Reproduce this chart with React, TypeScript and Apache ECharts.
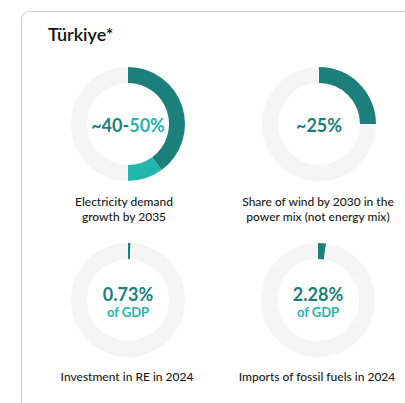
import React, { useEffect, useRef } from "react";
import * as echarts from "echarts";

const title = "Türkiye*";
const captions = [
  ["Electricity demand", "growth by 2035"],
  ["Share of wind by 2030 in the", "power mix (not energy mix)"],
  ["Investment in RE in 2024"],
  ["Imports of fossil fuels in 2024"],
];
const primaryValues = [40, 25, 0.73, 2.28];
const secondaryValues = [10, 0, 0, 0];
const totals = [100, 100, 100, 100];
const mainLabels = ["~40-", "~25%", "0.73%", "2.28%"];
const accentLabels = ["50%", "", "", ""];
const subLabels = ["", "", "of GDP", "of GDP"];

const DARK = "#1c7f7b";
const LIGHT = "#22b5ad";
const GRAY = "#f5f5f5";
const FONT = "Lato, 'Open Sans', sans-serif";

const centers: [number, number][] = [
  [128, 124],
  [319, 124],
  [128, 300],
  [318, 300],
];
const captionPos: [number, number][] = [
  [124, 201.5],
  [318, 201.5],
  [127, 376],
  [317, 376],
];

export default function App() {
  const ref = useRef<HTMLDivElement>(null);
  useEffect(() => {
    document.body.style.margin = "0";
    if (!ref.current) return;
    const chart = echarts.init(ref.current, undefined, { renderer: "svg" });

    const series = primaryValues.map((v, i) => {
      const rest = totals[i] - v - secondaryValues[i];
      const data: any[] = [{ value: v, itemStyle: { color: DARK } }];
      if (secondaryValues[i] > 0)
        data.push({ value: secondaryValues[i], itemStyle: { color: LIGHT } });
      data.push({ value: rest, itemStyle: { color: GRAY } });
      return {
        type: "pie",
        center: centers[i],
        radius: [41, 57],
        startAngle: 90,
        clockwise: true,
        silent: true,
        avoidLabelOverlap: false,
        label: { show: false },
        labelLine: { show: false },
        emphasis: { disabled: true },
        itemStyle: { borderWidth: 0 },
        data,
      };
    });

    const graphics: any[] = [
      {
        type: "rect",
        shape: { x: 21.5, y: 11.5, width: 600, height: 600, r: 8 },
        style: { fill: "#fff", stroke: "#cccccc", lineWidth: 1 },
        z: -10,
      },
      {
        type: "text",
        x: 48,
        y: 34,
        style: {
          text: title,
          fontFamily: FONT,
          fontSize: 18,
          fontWeight: 600,
          fill: "#111",
          textVerticalAlign: "middle",
        },
      },
    ];

    captions.forEach((lines, i) => {
      lines.forEach((line, j) => {
        graphics.push({
          type: "text",
          x: captionPos[i][0],
          y: captionPos[i][1] + j * 14.5,
          style: {
            text: line,
            fontFamily: FONT,
            fontSize: 12,
            fontWeight: 500,
            fill: "#1a1a1a",
            align: "center",
            verticalAlign: "middle",
          },
        });
      });
    });

    mainLabels.forEach((m, i) => {
      const [cx, cy] = centers[i];
      const hasSub = subLabels[i] !== "";
      const text = accentLabels[i]
        ? `{d|${m}}{l|${accentLabels[i]}}`
        : `{d|${m}}`;
      graphics.push({
        type: "text",
        x: cx,
        y: hasSub ? cy - 6 : cy + 1,
        style: {
          text,
          align: "center",
          verticalAlign: "middle",
          rich: {
            d: { fontFamily: FONT, fontSize: 18, fontWeight: "bold", fill: DARK },
            l: { fontFamily: FONT, fontSize: 18, fontWeight: "bold", fill: LIGHT },
          },
        },
      });
      if (hasSub) {
        graphics.push({
          type: "text",
          x: cx,
          y: cy + 12,
          style: {
            text: subLabels[i],
            fontFamily: FONT,
            fontSize: 13,
            fontWeight: "bold",
            fill: LIGHT,
            align: "center",
            verticalAlign: "middle",
          },
        });
      }
    });

    chart.setOption({
      animation: false,
      backgroundColor: "#fff",
      graphic: graphics,
      series,
    });
    return () => chart.dispose();
  }, []);
  return <div ref={ref} style={{ width: 405, height: 403 }} />;
}
